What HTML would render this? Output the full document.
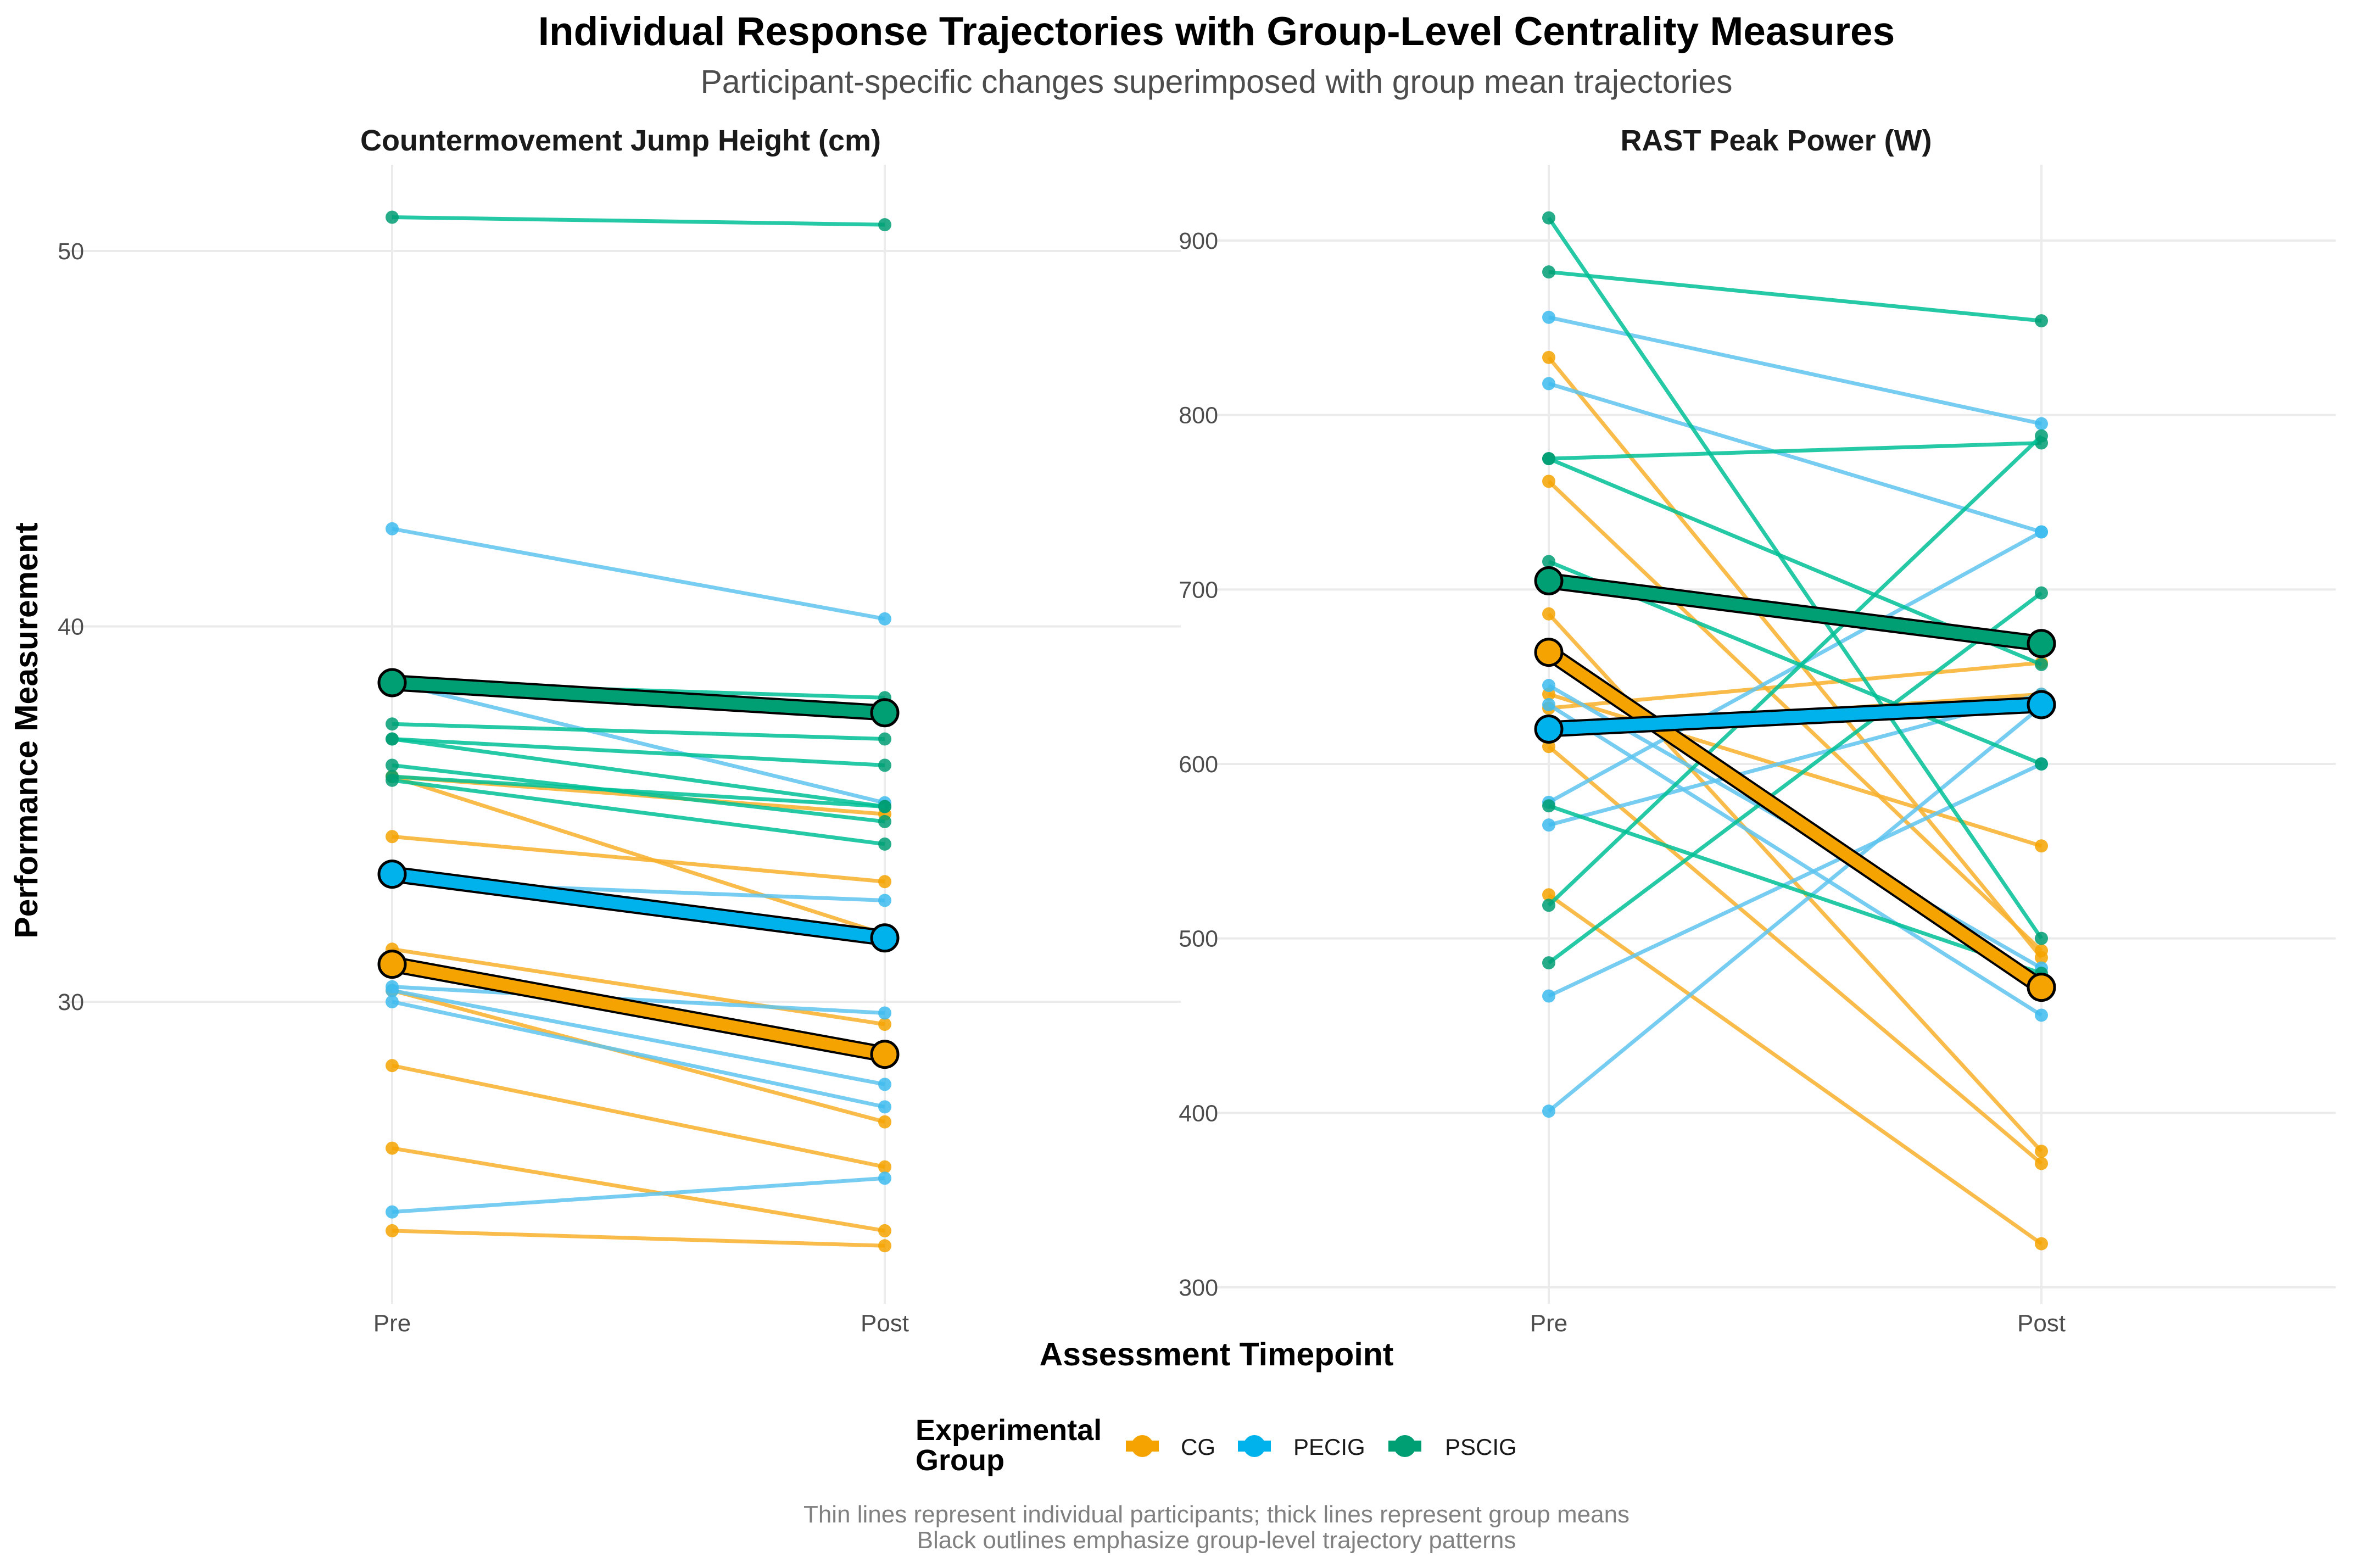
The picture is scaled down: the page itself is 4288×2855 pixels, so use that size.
<!DOCTYPE html>
<html><head><meta charset="utf-8"><style>
html,body{margin:0;padding:0;background:#fff;}
svg{display:block;font-family:"Liberation Sans",Arial,sans-serif;}
</style></head><body>
<svg id="chart" width="4288" height="2855" viewBox="0 0 4288 2855" xmlns="http://www.w3.org/2000/svg">
<rect width="4288" height="2855" fill="#fff"/>
<text x="2215" y="82" text-anchor="middle" font-size="73" font-weight="bold" fill="#000">Individual Response Trajectories with Group-Level Centrality Measures</text>
<text x="2215" y="169" text-anchor="middle" font-size="59" fill="#4d4d4d">Participant-specific changes superimposed with group mean trajectories</text>
<g id="panels"></g>
<text x="2215" y="2486" text-anchor="middle" font-size="59" font-weight="bold" fill="#000">Assessment Timepoint</text>
<text transform="translate(68,1330) rotate(-90)" text-anchor="middle" font-size="59" font-weight="bold" fill="#000">Performance Measurement</text>
<g>
<text x="1667" y="2622" font-size="54" font-weight="bold" fill="#000">Experimental</text>
<text x="1667" y="2677" font-size="54" font-weight="bold" fill="#000">Group</text>
<g><line x1="2050" y1="2633" x2="2110" y2="2633" stroke="#F5A300" stroke-width="20"/><circle cx="2080" cy="2633" r="20" fill="#F5A300"/><text x="2150" y="2649" font-size="42" fill="#1a1a1a">CG</text></g>
<g><line x1="2254" y1="2633" x2="2314" y2="2633" stroke="#00B2EC" stroke-width="20"/><circle cx="2284" cy="2633" r="20" fill="#00B2EC"/><text x="2355" y="2649" font-size="42" fill="#1a1a1a">PECIG</text></g>
<g><line x1="2528" y1="2633" x2="2588" y2="2633" stroke="#009E73" stroke-width="20"/><circle cx="2558" cy="2633" r="20" fill="#009E73"/><text x="2631" y="2649" font-size="42" fill="#1a1a1a">PSCIG</text></g>
</g>
<text x="2215" y="2772" text-anchor="middle" font-size="44" fill="#808080">Thin lines represent individual participants; thick lines represent group means</text>
<text x="2215" y="2819" text-anchor="middle" font-size="44" fill="#808080">Black outlines emphasize group-level trajectory patterns</text>
</svg>
<script>
// ---- data ----
const timepoints = ["Pre", "Post"];
const groups = ["CG", "PECIG", "PSCIG"];
const cmjTicks = [30, 40, 50];
const rastTicks = [300, 400, 500, 600, 700, 800, 900];
const cmjCGPre = [36.0, 36.0, 34.4, 31.4, 30.3, 28.3, 26.1, 23.9];
const cmjCGPost = [35.0, 31.8, 33.2, 29.4, 26.8, 25.6, 23.9, 23.5];
const cmjPECIGPre = [42.6, 38.5, 33.2, 30.4, 30.0, 30.3, 24.4];
const cmjPECIGPost = [40.2, 35.3, 32.7, 29.7, 27.2, 27.8, 25.3];
const cmjPSCIGPre = [50.9, 38.5, 37.4, 37.0, 37.0, 36.3, 36.0, 35.9];
const cmjPSCIGPost = [50.7, 38.1, 37.0, 36.3, 35.2, 34.8, 35.2, 34.2];
const cmjMeanPre = [31.0, 33.4, 38.5];
const cmjMeanPost = [28.6, 31.7, 37.7];
const rastCGPre = [833, 762, 686, 640, 632, 620, 610, 525];
const rastCGPost = [489, 493, 378, 553, 658, 640, 371, 325];
const rastPECIGPre = [856, 818, 645, 634, 578, 565, 467, 401];
const rastPECIGPost = [795, 733, 483, 456, 733, 640, 600, 633];
const rastPSCIGPre = [913, 882, 775, 775, 716, 576, 519, 486];
const rastPSCIGPost = [500, 854, 784, 657, 600, 480, 788, 698];
const rastMeanPre = [664, 620, 705];
const rastMeanPost = [472, 634, 669];

const NS = "http://www.w3.org/2000/svg";
const thinCol = {CG: "#F8B02C", PECIG: "#5EC4EE", PSCIG: "#00BF95"};
const dotCol = {CG: "#F5A300", PECIG: "#3DBBEE", PSCIG: "#009E73"};
const meanCol = {CG: "#F5A300", PECIG: "#00B2EC", PSCIG: "#009E73"};
function mk(tag, attrs, parent) {
  const e = document.createElementNS(NS, tag);
  for (const k in attrs) e.setAttribute(k, attrs[k]);
  parent.appendChild(e);
  return e;
}
const root = document.getElementById("panels");

function panel(cfg) {
  const g = mk("g", {}, root);
  
  
  const yScale = v => cfg.yTop + (cfg.vMax - v) / (cfg.vMax - cfg.vMin) * (cfg.yBot - cfg.yTop);
  const xScale = i => cfg.xs[i];
  cfg.ticks.forEach(t => {
    const l = mk("line", {x1: cfg.left, x2: cfg.right, y1: yScale(t), y2: yScale(t), stroke: "#ebebeb", "stroke-width": 4}, g);
    
    
    const tx = mk("text", {x: cfg.left + cfg.tickDx, y: yScale(t) + 15, "text-anchor": "end", "font-size": 43, fill: "#4d4d4d"}, g);
    tx.textContent = t;
    
    
  });
  timepoints.forEach((tp, i) => {
    const l = mk("line", {x1: xScale(i), x2: xScale(i), y1: cfg.yTop, y2: cfg.yBot, stroke: "#ebebeb", "stroke-width": 4}, g);
    
    
    const tx = mk("text", {x: xScale(i), y: cfg.yBot + 50, "text-anchor": "middle", "font-size": 44, fill: "#4d4d4d"}, g);
    tx.textContent = tp;
    
    
  });
  const tt = mk("text", {x: (cfg.left + cfg.right) / 2, y: 274, "text-anchor": "middle", "font-size": 54, "font-weight": "bold", fill: "#1a1a1a"}, g);
  tt.textContent = cfg.title;
  
  
  groups.forEach((gr, gi) => {
    const pre = cfg.pre[gi], post = cfg.post[gi];
    pre.forEach((v, k) => {
      const l = mk("line", {x1: xScale(0), y1: yScale(v), x2: xScale(1), y2: yScale(post[k]), stroke: thinCol[gr], "stroke-width": 7, "stroke-opacity": 0.85}, g);
      
      
      [[0, v], [1, post[k]]].forEach(p => {
        const c = mk("circle", {cx: xScale(p[0]), cy: yScale(p[1]), r: 12, fill: dotCol[gr], "fill-opacity": 0.85}, g);
        
        
      });
    });
  });
  groups.forEach((gr, gi) => {
    const y0 = yScale(cfg.mPre[gi]), y1 = yScale(cfg.mPost[gi]);
    const o = mk("line", {x1: xScale(0), y1: y0, x2: xScale(1), y2: y1, stroke: "#000", "stroke-width": 30}, g);
    
    
    const l = mk("line", {x1: xScale(0), y1: y0, x2: xScale(1), y2: y1, stroke: meanCol[gr], "stroke-width": 22}, g);
    
    
  });
  groups.forEach((gr, gi) => {
    [[0, cfg.mPre[gi]], [1, cfg.mPost[gi]]].forEach(p => {
      const c = mk("circle", {cx: xScale(p[0]), cy: yScale(p[1]), r: 24, fill: meanCol[gr], stroke: "#000", "stroke-width": 5}, g);
      
      
    });
  });
}
function panelAnch(cfg){
  const slope = (cfg.yB - cfg.yA) / (cfg.vB - cfg.vA);
  cfg.yTop = 300; cfg.yBot = 2374;
  cfg.vMax = cfg.vA + (300 - cfg.yA) / slope;
  cfg.vMin = cfg.vA + (2374 - cfg.yA) / slope;
  panel(cfg);
}
panelAnch({name: "cmj-panel", title: "Countermovement Jump Height (cm)", left: 110, right: 2150, tickDx: 43, xs: [714, 1611],
  yA: 1824, vA: 30, yB: 457, vB: 50, ticks: cmjTicks,
  pre: [cmjCGPre, cmjPECIGPre, cmjPSCIGPre], post: [cmjCGPost, cmjPECIGPost, cmjPSCIGPost],
  mPre: cmjMeanPre, mPost: cmjMeanPost});
panelAnch({name: "rast-panel", title: "RAST Peak Power (W)", left: 2215, right: 4253, tickDx: 3, xs: [2820, 3717],
  yA: 2344, vA: 300, yB: 438, vB: 900, ticks: rastTicks,
  pre: [rastCGPre, rastPECIGPre, rastPSCIGPre], post: [rastCGPost, rastPECIGPost, rastPSCIGPost],
  mPre: rastMeanPre, mPost: rastMeanPost});
</script>
</body></html>
